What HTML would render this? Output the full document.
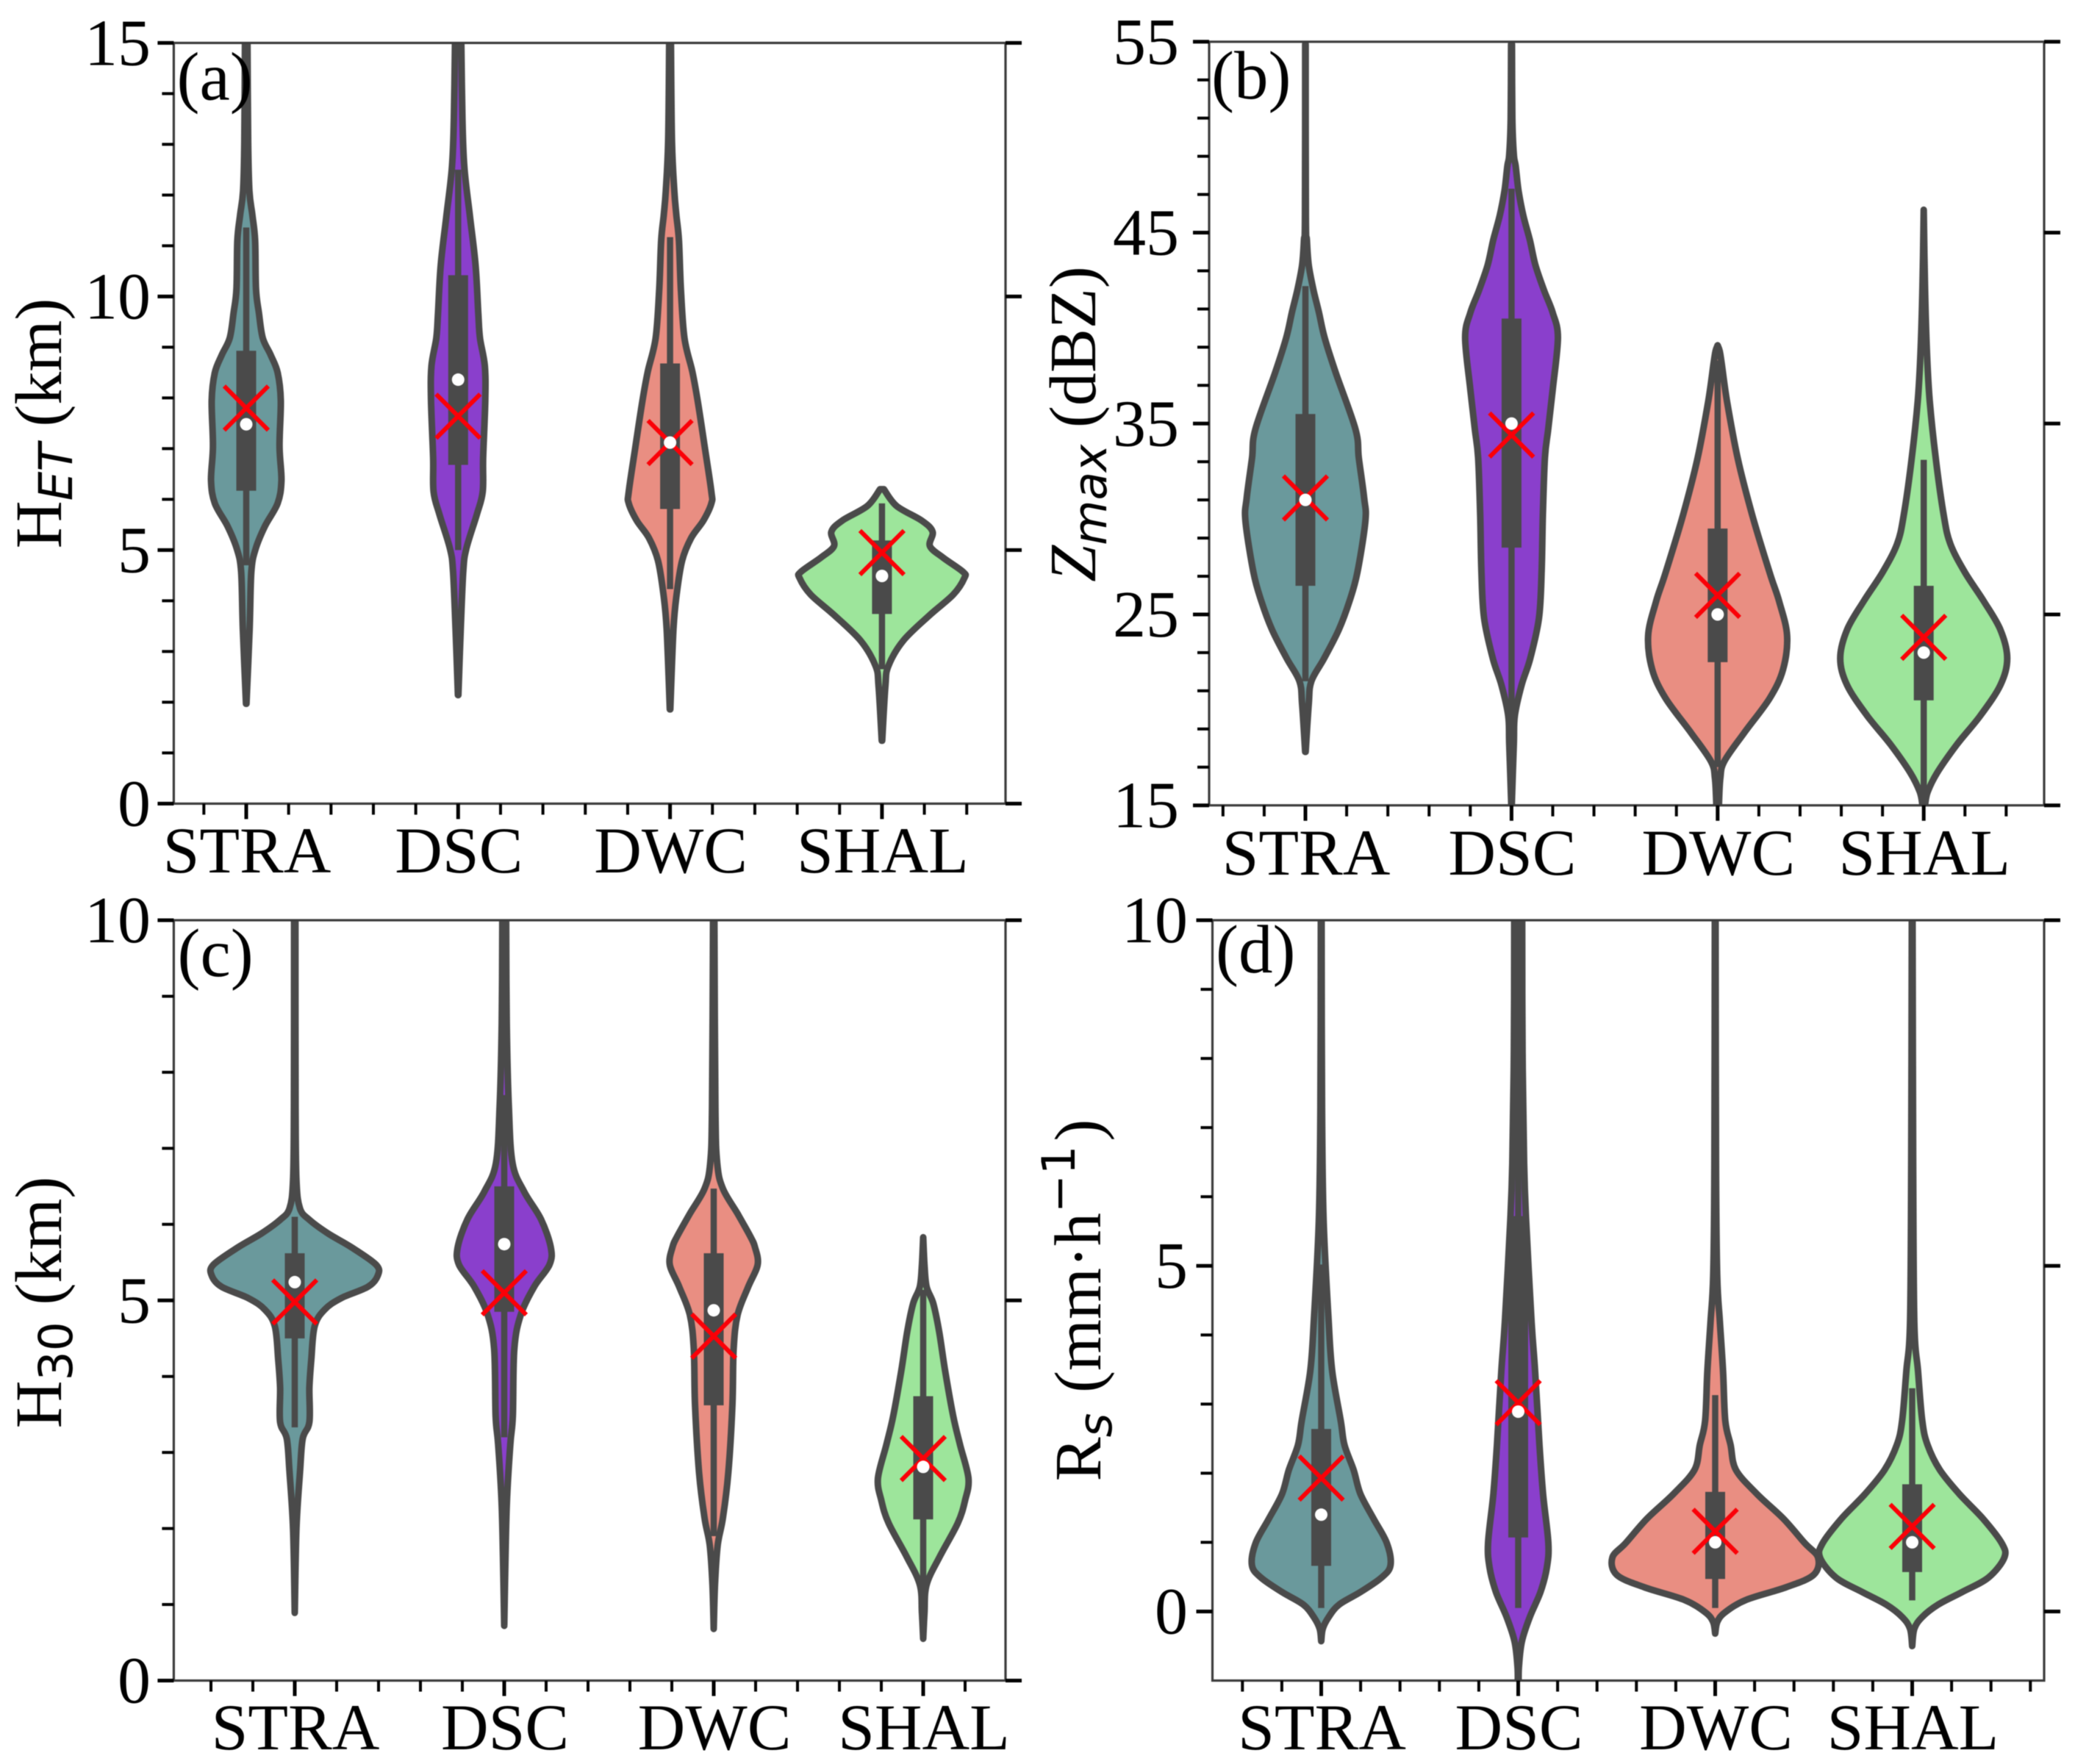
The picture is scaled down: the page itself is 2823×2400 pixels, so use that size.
<!DOCTYPE html>
<html lang="en">
<head>
<meta charset="utf-8">
<title>Violin plots of HET, Zmax, H30 and Rs by precipitation type</title>
<style>
html,body{margin:0;padding:0;background:#fff;}
#chart{display:block;width:2823px;height:2400px;filter:blur(0.6px);}
text{font-family:"Liberation Serif","DejaVu Serif",serif;fill:#000;}
</style>
</head>
<body>
<svg id="chart" xmlns="http://www.w3.org/2000/svg" width="2823" height="2400" viewBox="0 0 2823 2400"></svg>
<script>
// ---------- categories and tick labels ----------
const categories = ['STRA','DSC','DWC','SHAL'];
const aYMajor = [0,5,10,15];
const aYTickLabels = ['0','5','10','15'];
const bYMajor = [15,25,35,45,55];
const bYTickLabels = ['15','25','35','45','55'];
const cYMajor = [0,5,10];
const cYTickLabels = ['0','5','10'];
const dYMajor = [0,5,10];
const dYTickLabels = ['0','5','10'];

// ---------- panel (a) HET ----------
const aStraLevels = [14.98,13.05,12.08,11.6,11.1,10.15,9.67,9.18,8.85,8.5,7.95,7.05,6.37,5.92,5.47,5.02,4.57,3.44,1.97];
const aStraWidths = [.006,.009,.015,.029,.042,.046,.06,.078,.115,.148,.163,.157,.166,.148,.088,.044,.024,.016,.001];
const aDscLevels = [14.98,13.53,12.56,11.6,10.63,9.67,9.18,8.63,7.95,6.82,6.15,5.7,5.02,4.57,3.44,2.14];
const aDscWidths = [.015,.02,.029,.055,.082,.095,.103,.126,.128,.118,.116,.088,.038,.024,.012,.001];
const aDwcLevels = [14.98,13.05,12.08,11.6,11.1,10.15,9.18,8.52,7.95,7.05,6.15,5.92,5.58,5.24,4.79,4.12,3.44,1.86];
const aDwcWidths = [.004,.009,.02,.03,.042,.051,.068,.105,.13,.163,.195,.195,.157,.1,.057,.031,.016,.001];
const aShalLevels = [6.2,5.87,5.58,5.36,5.08,4.85,4.57,4.45,4.12,3.72,3.21,2.71,2.31,1.24];
const aShalWidths = [.009,.069,.188,.239,.226,.289,.383,.389,.336,.226,.1,.03,.016,.001];
const aQ1 = [6.17,6.68,5.81,3.74];
const aQ3 = [8.93,10.42,8.68,5.19];
const aWhiskerLow = [4.7,5.0,4.23,2.65];
const aWhiskerHigh = [11.36,12.5,11.17,5.92];
const aMedian = [7.48,8.36,7.12,4.49];
const aMean = [7.8,7.64,7.12,4.95];

// ---------- panel (b) Zmax ----------
const bStraLevels = [54.88,45.9,44.6,43.3,42,40.8,39.5,37.7,34.7,33.2,31.1,29.9,27.2,25.7,24.2,22.7,21.5,20.3,17.8];
const bStraWidths = [.001,.002,.007,.016,.039,.066,.093,.146,.243,.259,.285,.291,.252,.214,.162,.091,.029,.016,.001];
const bDscLevels = [54.88,51,49.1,48.5,47.2,45.9,44.6,43.3,42,40.8,39.5,36.8,34.7,33.2,30.2,27.2,24.8,22.7,21.3,19.7,18.2,15];
const bDscWidths = [.002,.004,.011,.02,.034,.057,.089,.116,.157,.2,.225,.2,.178,.162,.152,.146,.133,.091,.049,.016,.011,.001];
const bDwcLevels = [39.1,38.8,38.2,36.2,33.2,30.2,27.2,25.7,23.9,22.1,20.6,18.8,17.3,16.4,15];
const bDwcWidths = [0,.01,.019,.045,.097,.168,.252,.298,.337,.317,.252,.129,.032,.013,.006];
const bShalLevels = [46.2,42.2,38.6,36.2,33.2,30.2,28.7,27.2,25.7,24.2,22.7,21.3,19.7,18.2,16.7,15.7,15];
const bShalWidths = [0,.006,.016,.029,.058,.097,.129,.2,.291,.372,.405,.372,.275,.162,.065,.019,.006];
const bQ1 = [26.5,28.5,22.5,20.5];
const bQ3 = [35.5,40.5,29.5,26.5];
const bWhiskerLow = [21.5,19.7,17,15.2];
const bWhiskerHigh = [42.2,47.3,38.3,33.1];
const bMedian = [31,35,25,23];
const bMean = [31.1,34.4,26,23.8];

// ---------- panel (c) H30 ----------
const cStraLevels = [10,7.54,6.58,6.21,6.06,5.88,5.7,5.47,5.33,5.18,5.03,4.88,4.66,4.22,3.85,3.4,3.18,2.74,2,.89];
const cStraWidths = [.003,.004,.008,.025,.07,.159,.27,.388,.397,.35,.222,.143,.095,.079,.07,.07,.038,.025,.008,0];
const cDscLevels = [10,8.65,7.54,6.8,6.43,6.07,5.7,5.47,5.18,4.81,4.36,3.48,3.11,2.37,1.63,.72];
const cDscWidths = [.009,.012,.022,.04,.095,.175,.222,.216,.143,.079,.048,.041,.029,.013,.006,0];
const cDwcLevels = [10,7.54,6.8,6.47,6.14,5.84,5.7,5.47,5.18,4.81,4.36,3.62,2.74,2.14,1.78,1.26,.68];
const cDwcWidths = [.003,.008,.017,.044,.114,.175,.197,.21,.165,.114,.095,.089,.07,.044,.019,.006,0];
const cShalLevels = [5.83,5.47,5.18,4.96,4.59,4.07,3.48,3.11,2.66,2.37,2.07,1.63,1.26,.89,.55];
const cShalWidths = [0,.006,.016,.048,.076,.105,.143,.175,.216,.2,.165,.079,.016,.006,0];
const cQ1 = [4.5,4.85,3.62,2.12];
const cQ3 = [5.62,6.5,5.62,3.74];
const cWhiskerLow = [3.33,3.2,1.9,1.22];
const cWhiskerHigh = [6.1,7.7,6.47,5.14];
const cMedian = [5.24,5.74,4.87,2.81];
const cMean = [4.98,5.1,4.53,2.92];

// ---------- panel (d) Rs ----------
const dStraLevels = [10,7.3,5.67,4.18,3.47,2.76,2.41,2.05,1.7,1.34,.99,.67,.49,.28,.1,-.08,-.25,-.43];
const dStraWidths = [.002,.004,.012,.038,.056,.099,.118,.164,.199,.266,.333,.352,.306,.199,.091,.038,.008,0];
const dDscLevels = [10,8.11,6.49,5.67,4.18,3.47,2.41,1.7,.99,.63,.28,-.08,-.43,-.78,-.99];
const dDscWidths = [.02,.022,.03,.04,.068,.086,.108,.126,.153,.145,.113,.059,.019,.004,.002];
const dDwcLevels = [10,6.49,4.86,4.18,3.47,2.76,2.41,2.05,1.7,1.34,.99,.78,.53,.35,.17,-.01,-.15,-.32];
const dDwcWidths = [.002,.004,.01,.024,.04,.051,.078,.105,.212,.347,.454,.522,.5,.36,.159,.051,.011,0];
const dShalLevels = [10,6.49,4.18,3.47,2.76,2.41,2.05,1.7,1.34,.99,.78,.49,.28,.1,-.08,-.25,-.5];
const dShalWidths = [.002,.005,.011,.03,.051,.078,.14,.239,.36,.454,.468,.387,.253,.132,.051,.011,0];
const dQ1 = [.66,1.07,.47,.57];
const dQ3 = [2.64,5.72,1.73,1.84];
const dWhiskerLow = [.05,.05,.05,.16];
const dWhiskerHigh = [5.02,10,3.13,3.23];
const dMedian = [1.4,2.89,1,1];
const dMean = [1.93,3.02,1.16,1.23];

// ---------- styles and layout ----------
const fills = ['#6a999c','#8a3fcc','#e98e82','#9de59b'];
const ink = '#4a4a4a';
const NS = 'http://www.w3.org/2000/svg';
const root = document.getElementById('chart');

const panels = [
 {id:'a',left:236.4,right:1368,top:58.4,bottom:1093.4,cat0:335,catStep:288.3,yMin:0,yMax:15,yMinorStep:1,
  major:aYMajor,labels:aYTickLabels,labelRight:205,xBase:1187,tagX:240.5,tagY:135.5,
  levels:[aStraLevels,aDscLevels,aDwcLevels,aShalLevels],widths:[aStraWidths,aDscWidths,aDwcWidths,aShalWidths],
  q1:aQ1,q3:aQ3,lo:aWhiskerLow,hi:aWhiskerHigh,med:aMedian,mean:aMean,titleX:83},
 {id:'b',left:1645,right:2781,top:56.8,bottom:1095.7,cat0:1776,catStep:280.4,yMin:15,yMax:55,yMinorStep:2,
  major:bYMajor,labels:bYTickLabels,labelRight:1604,xBase:1190,tagX:1648,tagY:134,
  levels:[bStraLevels,bDscLevels,bDwcLevels,bShalLevels],widths:[bStraWidths,bDscWidths,bDwcWidths,bShalWidths],
  q1:bQ1,q3:bQ3,lo:bWhiskerLow,hi:bWhiskerHigh,med:bMedian,mean:bMean,titleX:1490},
 {id:'c',left:236.4,right:1368,top:1252,bottom:2286.5,cat0:401,catStep:285,yMin:0,yMax:10,yMinorStep:1,
  major:cYMajor,labels:cYTickLabels,labelRight:205,xBase:2380,tagX:241.5,tagY:1328,
  levels:[cStraLevels,cDscLevels,cDwcLevels,cShalLevels],widths:[cStraWidths,cDscWidths,cDwcWidths,cShalWidths],
  q1:cQ1,q3:cQ3,lo:cWhiskerLow,hi:cWhiskerHigh,med:cMedian,mean:cMean,titleX:83},
 {id:'d',left:1649.5,right:2781,top:1252,bottom:2286.5,cat0:1797.5,catStep:268,yMin:-1,yMax:10,yMinorStep:1,
  major:dYMajor,labels:dYTickLabels,labelRight:1616,xBase:2380,tagX:1654,tagY:1323,
  levels:[dStraLevels,dDscLevels,dDwcLevels,dShalLevels],widths:[dStraWidths,dDscWidths,dDwcWidths,dShalWidths],
  q1:dQ1,q3:dQ3,lo:dWhiskerLow,hi:dWhiskerHigh,med:dMedian,mean:dMean,titleX:1497}
];

function make(tag, parent, attrs){
  const el = document.createElementNS(NS, tag);
  for (const k in attrs) el.setAttribute(k, attrs[k]);
  parent.appendChild(el);
  return el;
}

function smoothSide(points){
  // Catmull-Rom through the points, returned as cubic Bezier segments
  let d = '';
  for (let i = 0; i < points.length - 1; i++){
    const p0 = points[Math.max(0, i - 1)], p1 = points[i], p2 = points[i + 1], p3 = points[Math.min(points.length - 1, i + 2)];
    const c1x = p1[0] + (p2[0] - p0[0]) / 6, c1y = p1[1] + (p2[1] - p0[1]) / 6;
    const c2x = p2[0] - (p3[0] - p1[0]) / 6, c2y = p2[1] - (p3[1] - p1[1]) / 6;
    d += ' C' + c1x.toFixed(1) + ' ' + c1y.toFixed(1) + ' ' + c2x.toFixed(1) + ' ' + c2y.toFixed(1) + ' ' + p2[0].toFixed(1) + ' ' + p2[1].toFixed(1);
  }
  return d;
}

function drawTitle(parent, x, y, parts, name){
  const t = make('text', parent, {x:x, y:y, 'text-anchor':'middle', 'font-size':90, transform:'rotate(-90 ' + x + ' ' + y + ')'});
  
  
  parts.forEach(function(p){
    const s = make('tspan', t, {});
    if (p.font) s.setAttribute('style', 'font-family:' + p.font + ';');
    if (p.italic) s.setAttribute('font-style', 'italic');
    if (p.size) s.setAttribute('font-size', p.size);
    if (p.dy) s.setAttribute('dy', p.dy);
    if (p.dx) s.setAttribute('dx', p.dx);
    s.textContent = p.text;
  });
}

panels.forEach(function(P){
  const g = make('g', root, {});
  
  

  const xScale = function(v){ return P.cat0 + v * P.catStep; };
  const yScale = function(v){ return P.bottom - (v - P.yMin) / (P.yMax - P.yMin) * (P.bottom - P.top); };

  const clip = make('clipPath', g, {id:'clip-' + P.id});
  make('rect', clip, {x:P.left, y:P.top, width:P.right - P.left, height:P.bottom - P.top});

  const marks = make('g', g, {'clip-path':'url(#clip-' + P.id + ')'});
  
  

  categories.forEach(function(cat, i){
    const key = cat.toLowerCase() + '-' + P.id;
    const right = P.levels[i].map(function(v, k){ return [xScale(i + P.widths[i][k]), yScale(v)]; });
    const left = P.levels[i].map(function(v, k){ return [xScale(i - P.widths[i][k]), yScale(v)]; }).reverse();
    const d = 'M' + right[0][0].toFixed(1) + ' ' + right[0][1].toFixed(1) + smoothSide(right) +
              ' L' + left[0][0].toFixed(1) + ' ' + left[0][1].toFixed(1) + smoothSide(left) + ' Z';
    const body = make('path', marks, {d:d, fill:fills[i], stroke:ink, 'stroke-width':9, 'stroke-linejoin':'round'});
    
    

    const whisker = make('line', marks, {x1:xScale(i), x2:xScale(i), y1:yScale(P.lo[i]), y2:yScale(P.hi[i]), stroke:ink, 'stroke-width':8.5});
    
    

    const box = make('rect', marks, {x:xScale(i) - 13.5, width:27, y:yScale(P.q3[i]), height:yScale(P.q1[i]) - yScale(P.q3[i]), fill:ink});
    
    
  });

  categories.forEach(function(cat, i){
    const key = cat.toLowerCase() + '-' + P.id;
    const mx = xScale(i), my = yScale(P.mean[i]);
    const marker = make('path', g, {d:'M' + (mx - 30) + ' ' + (my - 30) + ' L' + (mx + 30) + ' ' + (my + 30) + ' M' + (mx - 30) + ' ' + (my + 30) + ' L' + (mx + 30) + ' ' + (my - 30), stroke:'#fb0007', 'stroke-width':6, fill:'none'});
    
    

    const dot = make('circle', g, {cx:xScale(i), cy:yScale(P.med[i]), r:8.5, fill:'#fff'});
    
    
  });

  // frame
  const frame = make('rect', g, {x:P.left, y:P.top, width:P.right - P.left, height:P.bottom - P.top, fill:'none', stroke:'#3c3c3c', 'stroke-width':3.2});
  
  

  // y minor ticks
  for (let v = P.yMin; v <= P.yMax + 1e-6; v += P.yMinorStep){
    if (P.major.indexOf(v) >= 0 || v === P.yMin) continue;
    const minor = make('line', g, {x1:P.left - 16, x2:P.left, y1:yScale(v), y2:yScale(v), stroke:'#000', 'stroke-width':4});
    
    
  }
  // y major ticks and labels, mirrored on the right
  P.major.forEach(function(v, i){
    const tickL = make('line', g, {x1:P.left - 22, x2:P.left, y1:yScale(v), y2:yScale(v), stroke:'#000', 'stroke-width':5});
    
    

    const tickR = make('line', g, {x1:P.right, x2:P.right + 22, y1:yScale(v), y2:yScale(v), stroke:'#000', 'stroke-width':5});
    
    

    const label = make('text', g, {x:P.labelRight, y:yScale(v) + 30, 'text-anchor':'end', 'font-size':90});
    
    
    label.textContent = P.labels[i];
  });
  // x ticks at fifths of a category spacing
  for (let k = -10; k <= 30; k++){
    const v = k / 5, px = xScale(v);
    if (px <= P.left + 1 || px >= P.right - 1) continue;
    const isMajor = k % 5 === 0;
    const tick = make('line', g, {x1:px, x2:px, y1:P.bottom, y2:P.bottom + (isMajor ? 21 : 15), stroke:'#000', 'stroke-width':isMajor ? 5 : 4});
    
    
  }
  categories.forEach(function(cat, i){
    const label = make('text', g, {x:xScale(i) + 1, y:P.xBase, 'text-anchor':'middle', 'font-size':89.5});
    
    
    label.textContent = cat;
  });

  const tag = make('text', g, {x:P.tagX, y:P.tagY, 'font-size':93});
  
  
  tag.textContent = '(' + P.id + ')';
});

const sansOblique = '"DejaVu Sans",sans-serif';
drawTitle(root, panels[0].titleX, 576, [
  {text:'H'},
  {text:'ET', font:sansOblique, italic:true, size:63, dy:15},
  {text:' (km)', dy:-15}
], 'y-axis-title-het');
drawTitle(root, panels[1].titleX, 577, [
  {text:'Z', italic:true},
  {text:'max', font:sansOblique, italic:true, size:63, dy:15},
  {text:' (dBZ)', dy:-15}
], 'y-axis-title-zmax');
drawTitle(root, panels[2].titleX, 1772, [
  {text:'H'},
  {text:'30', font:sansOblique, size:63, dy:15},
  {text:' (km)', dy:-15}
], 'y-axis-title-h30');
drawTitle(root, panels[3].titleX, 1769, [
  {text:'R'},
  {text:'s', font:sansOblique, italic:true, size:63, dy:15},
  {text:' (mm·h', dy:-15, dx:5},
  {text:'−1', font:sansOblique, size:62, dy:-35},
  {text:')', dy:35, dx:6}
], 'y-axis-title-rs');
</script>
</body>
</html>
